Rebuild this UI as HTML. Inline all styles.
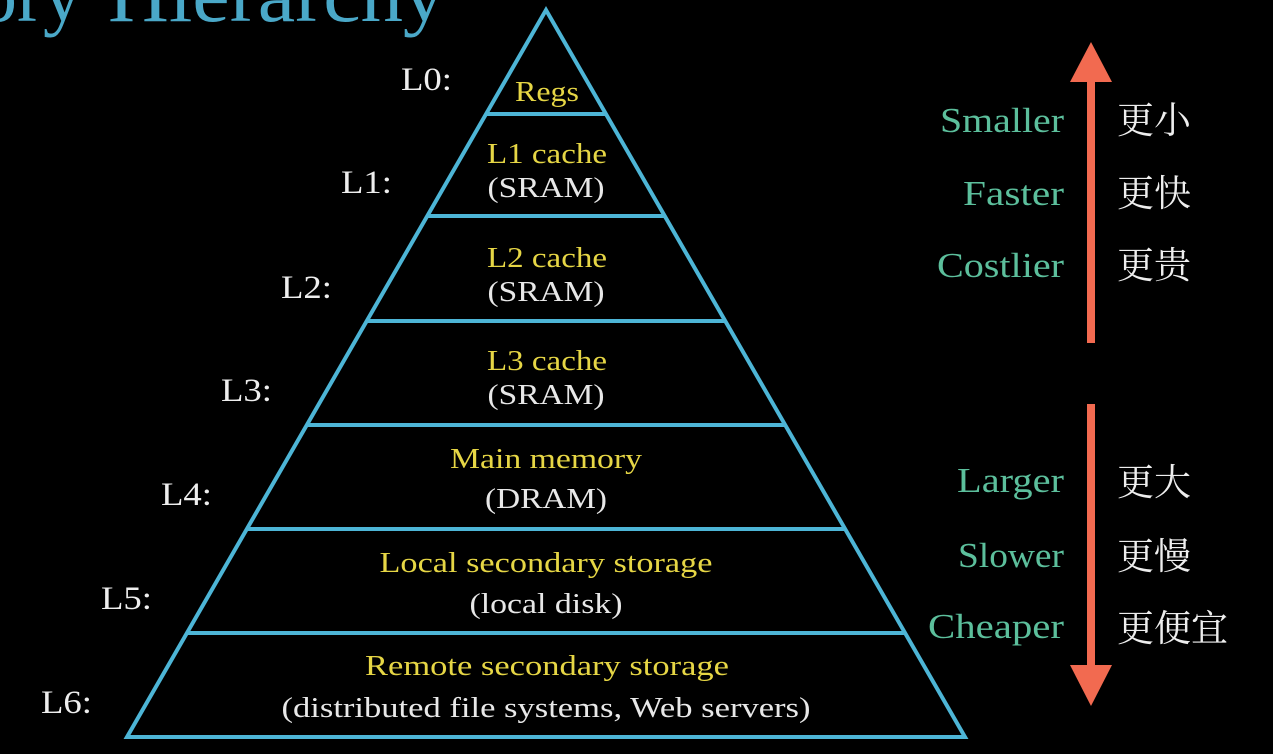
<!DOCTYPE html>
<html><head><meta charset="utf-8"><style>
body{margin:0;background:#000;width:1273px;height:754px;overflow:hidden;position:relative}
svg{position:absolute;left:0;top:0}
</style></head><body>
<svg width="1273" height="754" viewBox="0 0 1273 754" font-family="'Liberation Serif','Noto Serif CJK SC',serif">
<g fill="#4aa8c8" font-size="78">
<text x="82" y="21" text-anchor="end">Memory</text>
<text x="108" y="21" textLength="337" lengthAdjust="spacingAndGlyphs">Hierarchy</text>
</g>
<g stroke="#4db5d6" stroke-width="4" fill="none">
<polygon points="546,10 127,737 965,737" stroke-linejoin="miter"/>
<line x1="486" y1="114" x2="606" y2="114"/>
<line x1="427" y1="216" x2="665" y2="216"/>
<line x1="367" y1="321" x2="725" y2="321"/>
<line x1="307" y1="425" x2="785" y2="425"/>
<line x1="247" y1="529" x2="845" y2="529"/>
<line x1="187" y1="633" x2="905" y2="633"/>
</g>
<g fill="#e6d645" font-size="29" text-anchor="middle">
<text x="547" y="101" textLength="64" lengthAdjust="spacingAndGlyphs">Regs</text>
<text x="547" y="163" textLength="120" lengthAdjust="spacingAndGlyphs">L1 cache</text>
<text x="547" y="267" textLength="120" lengthAdjust="spacingAndGlyphs">L2 cache</text>
<text x="547" y="370" textLength="120" lengthAdjust="spacingAndGlyphs">L3 cache</text>
<text x="546" y="468" textLength="192" lengthAdjust="spacingAndGlyphs">Main memory</text>
<text x="546" y="572" textLength="333" lengthAdjust="spacingAndGlyphs">Local secondary storage</text>
<text x="547" y="675" textLength="364" lengthAdjust="spacingAndGlyphs">Remote secondary storage</text>
</g>
<g fill="#e8e8e8" font-size="29" text-anchor="middle">
<text x="546" y="197" textLength="117" lengthAdjust="spacingAndGlyphs">(SRAM)</text>
<text x="546" y="301" textLength="117" lengthAdjust="spacingAndGlyphs">(SRAM)</text>
<text x="546" y="404" textLength="117" lengthAdjust="spacingAndGlyphs">(SRAM)</text>
<text x="546" y="508" textLength="122" lengthAdjust="spacingAndGlyphs">(DRAM)</text>
<text x="546" y="613" textLength="153" lengthAdjust="spacingAndGlyphs">(local disk)</text>
<text x="546" y="717" textLength="529" lengthAdjust="spacingAndGlyphs">(distributed file systems, Web servers)</text>
</g>
<g fill="#eee" font-size="33">
<text x="401" y="90" textLength="51" lengthAdjust="spacingAndGlyphs">L0:</text>
<text x="341" y="193" textLength="51" lengthAdjust="spacingAndGlyphs">L1:</text>
<text x="281" y="298" textLength="51" lengthAdjust="spacingAndGlyphs">L2:</text>
<text x="221" y="401" textLength="51" lengthAdjust="spacingAndGlyphs">L3:</text>
<text x="161" y="505" textLength="51" lengthAdjust="spacingAndGlyphs">L4:</text>
<text x="101" y="609" textLength="51" lengthAdjust="spacingAndGlyphs">L5:</text>
<text x="41" y="713" textLength="51" lengthAdjust="spacingAndGlyphs">L6:</text>
</g>
<g fill="#5cbf9c" font-size="35">
<text x="940" y="132" textLength="124" lengthAdjust="spacingAndGlyphs">Smaller</text>
<text x="963" y="205" textLength="101" lengthAdjust="spacingAndGlyphs">Faster</text>
<text x="937" y="277" textLength="127" lengthAdjust="spacingAndGlyphs">Costlier</text>
<text x="957" y="492" textLength="107" lengthAdjust="spacingAndGlyphs">Larger</text>
<text x="958" y="567" textLength="106" lengthAdjust="spacingAndGlyphs">Slower</text>
<text x="928" y="638" textLength="136" lengthAdjust="spacingAndGlyphs">Cheaper</text>
</g>
<g fill="#eee" font-size="37" font-family="'Noto Serif CJK SC','Noto Sans CJK SC',serif">
<text x="1117" y="133">更小</text>
<text x="1117" y="206">更快</text>
<text x="1117" y="278">更贵</text>
<text x="1117" y="495">更大</text>
<text x="1117" y="569">更慢</text>
<text x="1117" y="641">更便宜</text>
</g>
<g fill="#f26a50">
<rect x="1087" y="78" width="8" height="265"/>
<polygon points="1091,42 1112,82 1070,82"/>
<rect x="1087" y="404" width="8" height="265"/>
<polygon points="1091,706 1112,665 1070,665"/>
</g>
</svg>
</body></html>
